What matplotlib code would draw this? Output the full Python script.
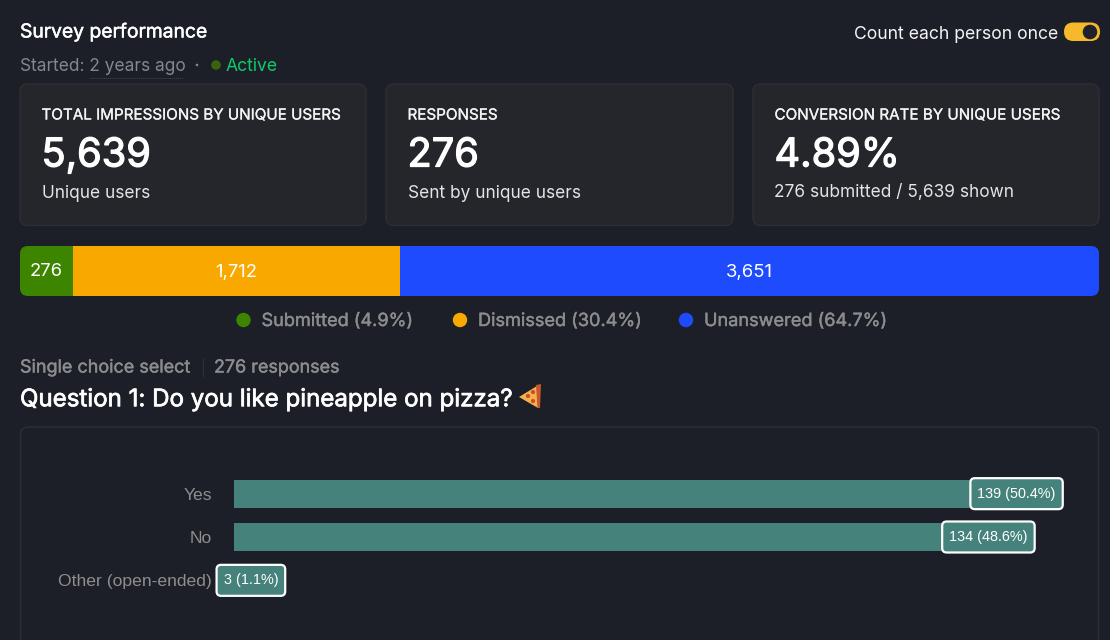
import matplotlib
matplotlib.use("Agg")
import matplotlib.pyplot as plt
import matplotlib.patheffects as pe
from matplotlib.patches import FancyBboxPatch, Circle, Polygon

W, H = 1110, 640
BG = "#1c1f27"
CARD = "#25262b"
CARD_EDGE = "#2d2f36"
MUTED = "#85878c"
LEGEND_GREY = "#8c8c8e"

# Data
card_titles = ["TOTAL IMPRESSIONS BY UNIQUE USERS", "RESPONSES", "CONVERSION RATE BY UNIQUE USERS"]
card_values = ["5,639", "276", "4.89%"]
card_notes = ["Unique users", "Sent by unique users", "276 submitted / 5,639 shown"]

stack_names = ["Submitted", "Dismissed", "Unanswered"]
stack_counts = [276, 1712, 3651]
stack_labels = ["276", "1,712", "3,651"]
stack_pcts = ["4.9%", "30.4%", "64.7%"]
stack_colors = ["#3d8500", "#f9a800", "#1f4bff"]

answers = ["Yes", "No", "Other (open-ended)"]
answer_counts = [139, 134, 3]
answer_labels = ["139 (50.4%)", "134 (48.6%)", "3 (1.1%)"]

fig = plt.figure(figsize=(W / 100, H / 100), dpi=100, facecolor=BG)


def pos(x0, y0, x1, y1):
    return [x0 / W, 1 - y1 / H, (x1 - x0) / W, (y1 - y0) / H]


def pixel_axes(z):
    ax = fig.add_axes([0, 0, 1, 1], zorder=z)
    ax.set_xlim(0, W)
    ax.set_ylim(H, 0)
    ax.axis("off")
    ax.patch.set_alpha(0)
    return ax


page = pixel_axes(0)
overlay = pixel_axes(3)


def txt(x, y, s, size, color="#ffffff", bold=0.0, family="Inter", ha="left", ax=page):
    t = ax.text(x, y, s, fontsize=size, color=color, family=family, ha=ha, va="center")
    if bold:
        t.set_path_effects([pe.withStroke(linewidth=bold, foreground=color)])
    return t


def box(x0, y0, x1, y1, r, fc, ec, lw=1.0, ax=page, z=1):
    p = FancyBboxPatch((x0 + r, y0 + r), x1 - x0 - 2 * r, y1 - y0 - 2 * r,
                       boxstyle=f"round,pad={r},rounding_size={r}", fc=fc, ec=ec, lw=lw, zorder=z)
    ax.add_patch(p)
    return p


# Header
txt(20, 32.5, "Survey performance", 13.9, bold=0.35)
txt(20, 66.5, "Started: 2 years ago", 12.45, color=MUTED)
page.add_patch(Circle((197, 65), 1.3, fc=MUTED, ec="none"))
page.add_patch(Circle((216, 65), 4.8, fc="#386410", ec="none"))
txt(226, 66.5, "Active", 12.6, color="#0ccb6e")
page.plot([90, 183], [77.5, 77.5], color="#44464c", lw=0.7, ls=(0, (1, 1)))

txt(1058, 34.5, "Count each person once", 12.7, color="#f4f4f5", ha="right")
box(1064, 22.5, 1100, 41, 9.2, "#f6b92b", "none")
page.add_patch(Circle((1090, 32), 8, fc="#1f222a", ec="#f6b92b", lw=1))

# Cards
card_x = [(20, 366), (386, 733), (753, 1099)]
for (x0, x1), t, v, n in zip(card_x, card_titles, card_values, card_notes):
    box(x0, 84, x1, 225.5, 8, CARD, CARD_EDGE)
    txt(x0 + 21.5, 115, t, 10.95, color="#f4f4f5", bold=0.2)
    txt(x0 + 21.5, 156, v, 28.6, bold=0.9)
    txt(x0 + 21.5, 193, n, 12.45, color="#e4e4e7")

# Stacked bar
stack = fig.add_axes(pos(20, 246, 1099, 296), zorder=1)
stack.set_xlim(0, sum(stack_counts))
stack.set_ylim(0, 1)
stack.axis("off")
clip = FancyBboxPatch((20 + 8, 246 + 8), 1079 - 16, 50 - 16, boxstyle="round,pad=8,rounding_size=8",
                      transform=page.transData, fc="none", ec="none")
page.add_patch(clip)
left = 0
for c, lab, col in zip(stack_counts, stack_labels, stack_colors):
    b = stack.barh(0.5, c, height=1, left=left, color=col, linewidth=0)
    b[0].set_clip_path(clip)
    stack.text(left + c / 2, 0.48, lab, ha="center", va="center", fontsize=13.3,
               color="#ffffff", family="Inter")
    left += c

# Stack legend
legend_dots = [243.5, 460, 686]
legend_text = [261.5, 478, 704]
for xd, xt, name, p, col in zip(legend_dots, legend_text, stack_names, stack_pcts, stack_colors):
    page.add_patch(Circle((xd, 320), 7.2, fc=col, ec="none"))
    txt(xt, 321.5, f"{name} ({p})", 13.05, color=LEGEND_GREY, bold=0.3)

# Question header
txt(20, 368, "Single choice select", 12.95, color=LEGEND_GREY, bold=0.3)
page.plot([203, 203], [358, 376], color="#2b2e35", lw=1)
txt(214, 368, "276 responses", 12.9, color=LEGEND_GREY, bold=0.3)
txt(20, 400, "Question 1: Do you like pineapple on pizza?", 17.35, bold=0.5)

# Pizza slice (emoji drawn as shapes)
page.add_patch(Polygon([[519, 397], [537, 386], [538, 408]], fc="#f2b24c", ec="none", zorder=3))
page.add_patch(Polygon([[536, 385], [541, 384], [540, 408], [537.5, 408]], fc="#c9562e", ec="none", zorder=3))
for cx, cy in [(528, 396), (533, 401), (533, 392)]:
    page.add_patch(Circle((cx, cy), 2.1, fc="#d3492c", ec="none", zorder=4))

# Answer panel
box(20.5, 427, 1098.5, 700, 8, BG, CARD_EDGE)

# Answer bars
SCALE = 5.63
x_right = 1090
chart = fig.add_axes(pos(234, 472, x_right, 602), zorder=2)
chart.set_xlim(0, (x_right - 234) / SCALE)
chart.set_ylim(2.5, -0.5)
chart.patch.set_alpha(0)
for s in chart.spines.values():
    s.set_visible(False)
chart.xaxis.set_visible(False)
chart.set_yticks(range(len(answers)))
chart.set_yticklabels(answers, family="Liberation Sans", fontsize=12.6, color="#8e8e8e")
chart.tick_params(axis="y", length=0, pad=16)
chart.barh(range(len(answers)), answer_counts, height=0.645, color="#46827c", linewidth=0)

# Value labels centred on each bar's end
fig.canvas.draw()
renderer = fig.canvas.get_renderer()
for i, (c, lab) in enumerate(zip(answer_counts, answer_labels)):
    px, py = overlay.transData.inverted().transform(chart.transData.transform((c, i)))
    t = overlay.text(px, py, lab, ha="center", va="center", fontsize=10.4, color="#ffffff",
                     family="Liberation Sans", zorder=6)
    half = t.get_window_extent(renderer).width / 2 + 7
    box(px - half, py - 15.5, px + half, py + 15.5, 4.5, "#46827c", "#ffffff", lw=1.6, ax=overlay, z=5)

fig.savefig("out.png", dpi=100, facecolor=BG)
